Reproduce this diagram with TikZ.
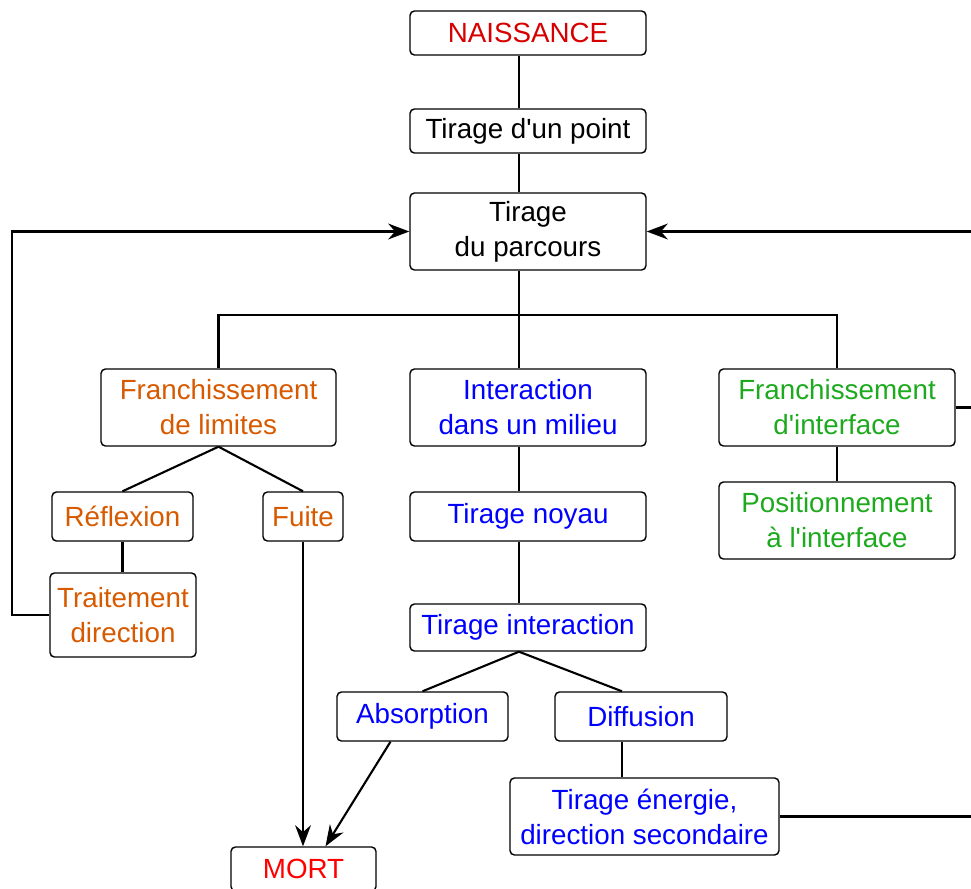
\documentclass[tikz,border=0pt]{standalone}
\usepackage{fontspec}
\setmainfont{Liberation Sans}
\usetikzlibrary{arrows.meta,positioning,calc}
\definecolor{rougefonce}{RGB}{215,0,0}
\definecolor{rougevif}{RGB}{255,0,0}
\definecolor{orangetxt}{RGB}{215,90,0}
\definecolor{bleutxt}{RGB}{0,0,255}
\definecolor{verttxt}{RGB}{30,170,30}

\begin{document}
\begin{tikzpicture}[
    x=0.02cm, y=-0.02cm,
    boite/.style={draw, rounded corners=2.5pt, align=center, inner sep=0pt, line width=0.8pt,
                  font=\fontsize{15.8}{20}\selectfont},
    lien/.style={line width=1.2pt},
    fleche/.style={line width=1.2pt, -{Stealth[length=12pt,width=9pt]}}
]

\useasboundingbox (0,0) rectangle (971,889);
\clip (0,0) rectangle (971,889);

% tronc principal
\node[boite, minimum width=4.72cm, minimum height=0.88cm, text=rougefonce] (naiss) at (528,33) {NAISSANCE};
\node[boite, minimum width=4.72cm, minimum height=0.88cm] (point) at (528,131) {Tirage d\textquotesingle un point};
\node[boite, minimum width=4.72cm, minimum height=1.54cm] (parcours) at (528,231.5) {Tirage\\du parcours};

% trois branches
\node[boite, minimum width=4.70cm, minimum height=1.54cm, text=orangetxt] (limites) at (218.5,407.5) {Franchissement\\de limites};
\node[boite, minimum width=4.72cm, minimum height=1.54cm, text=bleutxt] (milieu) at (528,407.5) {Interaction\\dans un milieu};
\node[boite, minimum width=4.72cm, minimum height=1.54cm, text=verttxt] (interface) at (837,407.5) {Franchissement\\d\textquotesingle interface};

% branche limites
\node[boite, minimum width=2.82cm, minimum height=0.98cm, text=orangetxt] (reflexion) at (122.5,516.5) {Réflexion};
\node[boite, minimum width=1.60cm, minimum height=0.98cm, text=orangetxt] (fuite) at (303,516.5) {Fuite};
\node[boite, minimum width=2.92cm, minimum height=1.68cm, text=orangetxt] (traitement) at (123,615) {Traitement\\direction};

% branche milieu
\node[boite, minimum width=4.72cm, minimum height=0.98cm, text=bleutxt] (noyau) at (528,516.5) {Tirage noyau};
\node[boite, minimum width=4.72cm, minimum height=0.94cm, text=bleutxt] (interaction) at (528,627.5) {Tirage interaction};
\node[boite, minimum width=3.42cm, minimum height=0.98cm, text=bleutxt] (absorption) at (422.5,716.5) {Absorption};
\node[boite, minimum width=3.44cm, minimum height=0.98cm, text=bleutxt] (diffusion) at (641,716.5) {Diffusion};
\node[boite, minimum width=5.38cm, minimum height=1.54cm, text=bleutxt] (energie) at (644.5,816.5) {Tirage énergie,\\direction secondaire};

% branche interface
\node[boite, minimum width=4.72cm, minimum height=1.54cm, text=verttxt] (position) at (837,520.5) {Positionnement\\à l\textquotesingle interface};

% fin
\node[boite, minimum width=2.90cm, minimum height=0.88cm, text=rougevif] (mort) at (303.5,869) {MORT};

\coordinate (bus) at (519,315);
\coordinate (gauche) at (12,0);
\coordinate (droite) at (990,0);

% liaisons
\draw[lien] ($(naiss.south)+(-9,0)$) -- ($(point.north)+(-9,0)$);
\draw[lien] ($(point.south)+(-9,0)$) -- ($(parcours.north)+(-9,0)$);
\draw[lien] ($(parcours.south)+(-9,0)$) -- ($(milieu.north)+(-9,0)$);
\draw[lien] (limites.north) |- (bus) -| (interface.north);

\draw[lien] (limites.south) -- (reflexion.north);
\draw[lien] (limites.south) -- (fuite.north);
\draw[lien] (reflexion.south) -- (reflexion.south |- traitement.north);
\draw[fleche] (traitement.west) -- (traitement.west -| gauche) |- (parcours.west);

\draw[lien] ($(milieu.south)+(-9,0)$) -- ($(noyau.north)+(-9,0)$);
\draw[lien] ($(noyau.south)+(-9,0)$) -- ($(interaction.north)+(-9,0)$);
\draw[lien] ($(interaction.south)+(-9,0)$) -- (absorption.north);
\draw[lien] ($(interaction.south)+(-9,0)$) -- ($(diffusion.north)+(-19,0)$);
\draw[lien] ($(diffusion.south)+(-19,0)$) coordinate (dd) -- (dd |- energie.north);

\draw[lien] (interface.south) -- (interface.south |- position.north);
\draw[lien] (interface.east) -- (interface.east -| droite);
\draw[fleche] (energie.east) -| (droite |- parcours.east) -- (parcours.east);

\draw[fleche] (fuite.south) -- (fuite.south |- mort.north);
\draw[fleche] ($(absorption.south)+(-32,0)$) -- ($(mort.north)+(22,0)$);

\end{tikzpicture}
\end{document}
